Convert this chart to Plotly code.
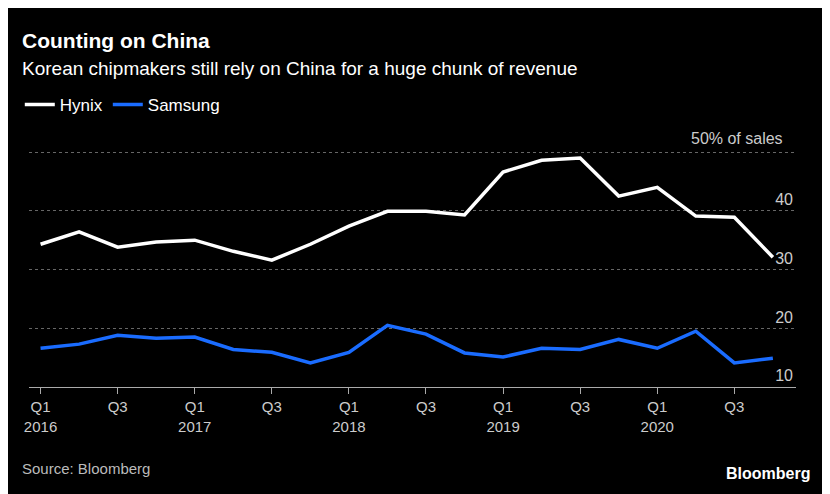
import plotly.graph_objects as go

quarters = list(range(20))
tick_pos = [0, 2, 4, 6, 8, 10, 12, 14, 16, 18]
tick_text = ['Q1<br>2016', 'Q3', 'Q1<br>2017', 'Q3', 'Q1<br>2018', 'Q3',
             'Q1<br>2019', 'Q3', 'Q1<br>2020', 'Q3']

hynix = [34.3, 36.4, 33.8, 34.7, 35.0, 33.1, 31.6, 34.3, 37.4, 39.9,
         39.9, 39.3, 46.6, 48.6, 49.0, 42.5, 44.0, 39.1, 38.9, 32.1]
samsung = [16.6, 17.3, 18.8, 18.3, 18.5, 16.4, 15.9, 14.1, 15.9, 20.5,
           19.0, 15.8, 15.1, 16.6, 16.4, 18.1, 16.6, 19.5, 14.1, 14.9]

fig = go.Figure()
fig.add_trace(go.Scatter(x=quarters, y=hynix, name='Hynix', mode='lines',
                         line=dict(color='white', width=3.5)))
fig.add_trace(go.Scatter(x=quarters, y=samsung, name='Samsung', mode='lines',
                         line=dict(color='#1a6cff', width=3.5)))

font = 'Liberation Sans, Arial, sans-serif'
H = 242.0


def py(p):
    # pixel row (from the top of the plotted region) -> paper y
    return (379 - p) / H


fig.update_layout(
    width=830, height=494,
    paper_bgcolor='black', plot_bgcolor='black',
    font=dict(family=font, color='#cccccc', size=15),
    margin=dict(l=18, r=42, t=137, b=115),
    showlegend=True,
    legend=dict(orientation='h', x=-0.012, xanchor='left', y=py(97), yanchor='middle',
                font=dict(size=17, color='white'), itemwidth=30, bgcolor='rgba(0,0,0,0)'),
    annotations=[
        dict(text='<b>Counting on China</b>', xref='paper', yref='paper', x=-0.012, y=py(32),
             xanchor='left', yanchor='middle', showarrow=False,
             font=dict(size=21, color='white')),
        dict(text='Korean chipmakers still rely on China for a huge chunk of revenue',
             xref='paper', yref='paper', x=-0.012, y=py(60), xanchor='left', yanchor='middle',
             showarrow=False, font=dict(size=19, color='white')),
        dict(text='50% of sales', xref='paper', yref='y', x=0.986, y=50, yshift=14,
             xanchor='right', yanchor='middle', showarrow=False,
             font=dict(size=16, color='#cccccc')),
        dict(text='Source: Bloomberg', xref='paper', yref='paper', x=-0.012, y=py(460),
             xanchor='left', yanchor='middle', showarrow=False,
             font=dict(size=15, color='#bbbbbb')),
        dict(text='<b>Bloomberg</b>', xref='paper', yref='paper', x=1.021, y=py(465),
             xanchor='right', yanchor='middle', showarrow=False,
             font=dict(size=16, color='white')),
    ],
)
fig.update_xaxes(range=[-0.3, 19.6], tickvals=tick_pos, ticktext=tick_text,
                 showgrid=False, zeroline=False, showline=True, linecolor='#aaaaaa',
                 ticks='outside', tickcolor='#aaaaaa', ticklen=6,
                 tickfont=dict(size=15, color='#cccccc'))
fig.update_yaxes(range=[10, 51.2], side='right', tickvals=[10, 20, 30, 40, 50],
                 ticktext=['10', '20', '30', '40', ''],
                 ticklabelposition='inside top', showgrid=True, gridcolor='#666666',
                 griddash='dot', gridwidth=1, zeroline=False, showline=False,
                 tickfont=dict(size=16, color='#cccccc'))

fig.write_html('out.html')
